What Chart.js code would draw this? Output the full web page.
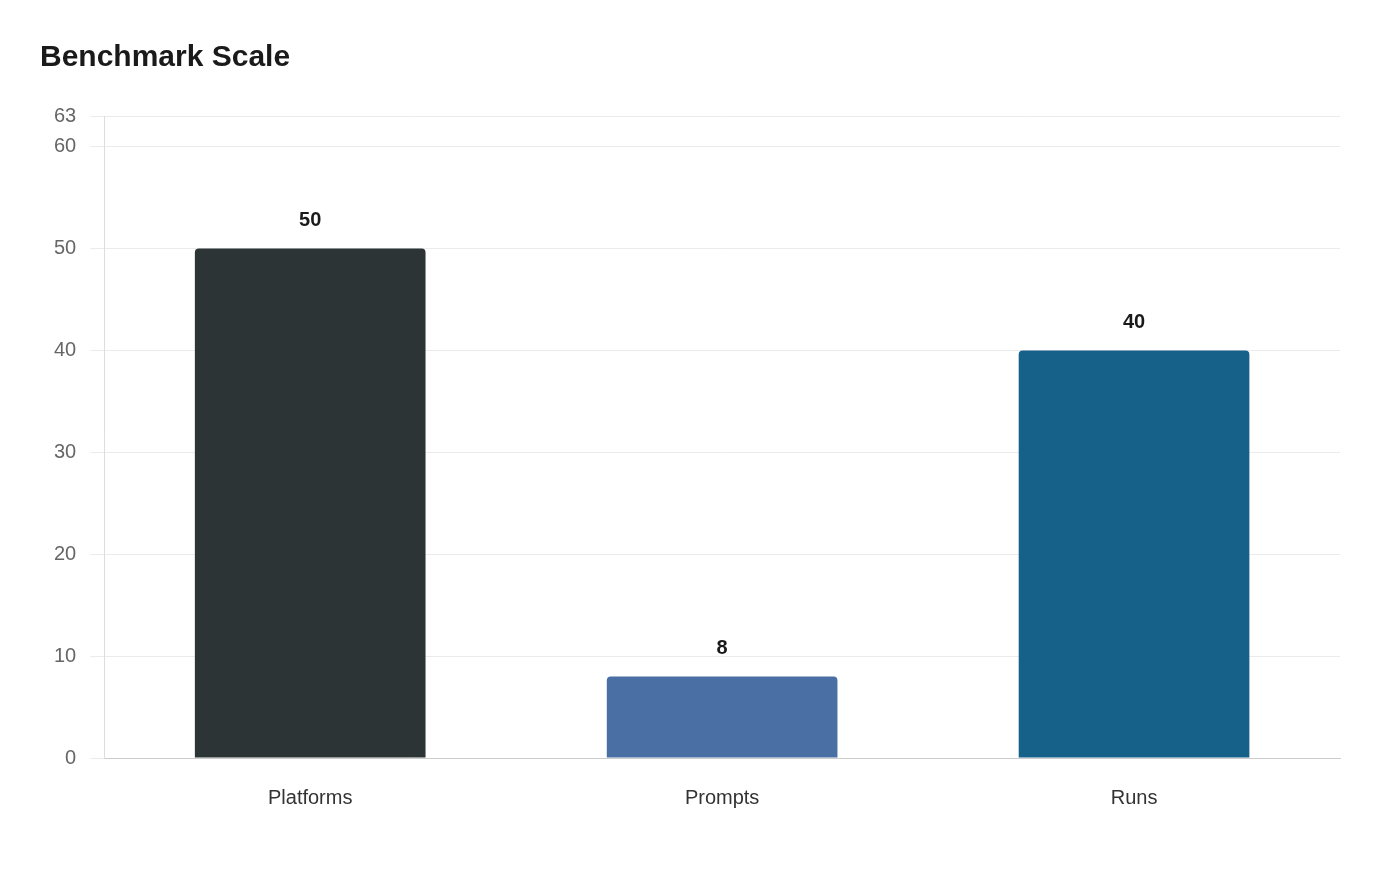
<!DOCTYPE html>
<html>
<head>
<meta charset="utf-8">
<script src="https://cdn.jsdelivr.net/npm/chart.js@4"></script>
<style>
  html, body { margin:0; padding:0; background:#fff; }
  #wrap { width:1400px; height:880px; }
</style>
</head>
<body>
<div id="wrap"><canvas id="chart"></canvas></div>
<script>
// data
const categories = ["Platforms", "Prompts", "Runs"];
const values = [50, 8, 40];
const barColors = ["#2d3436", "#4a6fa5", "#16618a"];
const yTicks = [0, 10, 20, 30, 40, 50, 60, 63];

// value labels above bars
const valueLabels = {
  id: "valueLabels",
  afterDatasetsDraw(chart){
    const ctx = chart.ctx;
    const meta = chart.getDatasetMeta(0);
    ctx.save();
    ctx.font = "bold 20px 'Liberation Sans', Arial, sans-serif";
    ctx.fillStyle = "#1a1a1a";
    ctx.textAlign = "center";
    ctx.textBaseline = "bottom";
    meta.data.forEach((bar, i)=>{
      ctx.fillText(values[i], bar.x, bar.y - 18);
    });
    ctx.restore();
  }
};

new Chart(document.getElementById("chart"), {
  type: "bar",
  data: {
    labels: categories,
    datasets: [{
      data: values,
      backgroundColor: barColors,
      borderRadius: { topLeft: 4, topRight: 4 },
      borderSkipped: "bottom",
      barPercentage: 0.56,
      categoryPercentage: 1
    }]
  },
  options: {
    responsive: true,
    maintainAspectRatio: false,
    animation: false,
    layout: { padding: { left: 40, right: 60, top: 40, bottom: 50 } },
    plugins: {
      legend: { display: false },
      tooltip: { enabled: false },
      title: {
        display: true,
        text: "Benchmark Scale",
        align: "start",
        color: "#1a1a1a",
        font: { family: "'Liberation Sans', Arial, sans-serif", size: 30, weight: "bold" },
        padding: { top: 0, bottom: 40 }
      }
    },
    scales: {
      x: {
        grid: { display: false },
        border: { color: "#cccccc" },
        ticks: {
          color: "#333",
          padding: 20,
          font: { family: "'Liberation Sans', Arial, sans-serif", size: 20 }
        }
      },
      y: {
        min: 0,
        max: 63,
        afterBuildTicks(axis){ axis.ticks = yTicks.map(v => ({ value: v })); },
        grid: { color: "#ebebeb", tickLength: 14 },
        border: { color: "#dddddd" },
        ticks: {
          color: "#666",
          padding: 14,
          font: { family: "'Liberation Sans', Arial, sans-serif", size: 20 }
        }
      }
    }
  },
  plugins: [valueLabels]
});
</script>
</body>
</html>
